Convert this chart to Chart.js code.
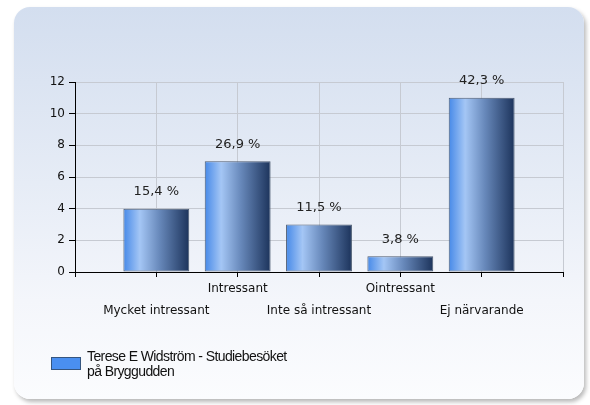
<!DOCTYPE html>
<html>
<head>
<meta charset="utf-8">
<script src="https://cdn.jsdelivr.net/npm/chart.js@4"></script>
<style>
  html, body { margin: 0; padding: 0; background: #ffffff; }
  body { width: 590px; height: 405px; position: relative; overflow: hidden; }
  .panel {
    position: absolute; left: 14px; top: 7px; width: 570px; height: 392px;
    border-radius: 16px;
    background: linear-gradient(to bottom, #d3deef 0%, #e6ecf6 45%, #f4f6fb 75%, #fbfcfe 100%);
    box-shadow: 2px 3px 4px rgba(0, 0, 0, 0.28);
  }
  #chart { position: absolute; left: 0; top: 0; }
</style>
</head>
<body>
<div class="panel"></div>
<canvas id="chart" width="590" height="405"></canvas>
<script>
// svarsalternativ och antal svar
const categories = ['Mycket intressant', 'Intressant', 'Inte så intressant', 'Ointressant', 'Ej närvarande'];
const counts = [4, 7, 3, 1, 11];
const percentLabels = ['15,4 %', '26,9 %', '11,5 %', '3,8 %', '42,3 %'];
const seriesName = ['Terese E Widström - Studiebesöket', 'på Bryggudden'];
const yTicks = [0, 2, 4, 6, 8, 10, 12];

// tom plats i början och slutet, etiketter växelvis på två rader
const labels = [''].concat(categories.map((c, i) => i % 2 === 0 ? ['', c] : [c, '']), ['']);
const values = [null].concat(counts, [null]);

const FONT = "'DejaVu Sans', sans-serif";

function barGradient(c) {
    const chart = c.chart;
    const x = chart.scales.x;
    if (!chart.chartArea || !x || c.dataIndex == null) return '#4a8eea';
    const step = x.getPixelForValue(1) - x.getPixelForValue(0);
    const cx = x.getPixelForValue(c.dataIndex);
    const w = step * 0.81;
    const g = chart.ctx.createLinearGradient(cx - w / 2, 0, cx + w / 2, 0);
    g.addColorStop(0, '#4689e8');
    g.addColorStop(0.25, '#a4c6f5');
    g.addColorStop(0.55, '#6788ba');
    g.addColorStop(1, '#1c335b');
    return g;
}

const valueLabels = {
    id: 'valueLabels',
    afterDatasetsDraw(chart) {
        const ctx = chart.ctx;
        const meta = chart.getDatasetMeta(0);
        ctx.save();
        ctx.font = '13px ' + FONT;
        ctx.fillStyle = '#222222';
        ctx.textAlign = 'center';
        ctx.textBaseline = 'middle';
        meta.data.forEach((bar, i) => {
            if (values[i] == null) return;
            ctx.fillText(percentLabels[i - 1], bar.x, bar.y - 17);
        });
        ctx.restore();
    }
};

const boxLegend = {
    id: 'boxLegend',
    afterDraw(chart) {
        const ctx = chart.ctx;
        const left = chart.chartArea.left - 24;
        const top = chart.chartArea.bottom + 85;
        ctx.save();
        ctx.fillStyle = '#4a8ff0';
        ctx.strokeStyle = '#35557f';
        ctx.lineWidth = 1;
        ctx.fillRect(left + 0.5, top + 0.5, 29, 12);
        ctx.strokeRect(left + 0.5, top + 0.5, 29, 12);
        ctx.font = "14px 'Liberation Sans', Arial, sans-serif";
        if ('letterSpacing' in ctx) ctx.letterSpacing = '-0.6px';
        ctx.fillStyle = '#111111';
        ctx.textAlign = 'left';
        ctx.textBaseline = 'alphabetic';
        seriesName.forEach((line, i) => {
            ctx.fillText(line, left + 36, top + 4 + i * 15);
        });
        ctx.restore();
    }
};

new Chart(document.getElementById('chart'), {
    type: 'bar',
    data: {
        labels: labels,
        datasets: [{
            label: seriesName.join(' '),
            data: values,
            backgroundColor: barGradient,
            borderColor: '#4b5a70',
            borderWidth: 1,
            borderSkipped: false,
            categoryPercentage: 0.9,
            barPercentage: 0.9
        }]
    },
    options: {
        responsive: false,
        animation: false,
        devicePixelRatio: 1,
        layout: { padding: { left: 45, right: 27, top: 82, bottom: 83 } },
        plugins: {
            legend: { display: false },
            tooltip: { enabled: false }
        },
        scales: {
            x: {
                offset: false,
                grid: { offset: false, color: '#c6cad2', tickColor: '#000000', tickLength: 5 },
                border: { color: '#000000', width: 1 },
                ticks: {
                    autoSkip: false, maxRotation: 0, padding: 0,
                    color: '#111111',
                    font: { family: FONT, size: 12, lineHeight: 1.9 }
                },
                afterFit: s => { s.height = 50; }
            },
            y: {
                min: 0,
                max: 12,
                afterBuildTicks: s => { s.ticks = yTicks.map(v => ({ value: v })); },
                grid: { color: '#c6cad2', tickColor: '#000000', tickLength: 6 },
                border: { color: '#000000', width: 1 },
                ticks: {
                    padding: 4,
                    color: '#111111',
                    font: { family: FONT, size: 12 }
                },
                afterFit: s => { s.width = 30; }
            }
        }
    },
    plugins: [valueLabels, boxLegend]
});
</script>
</body>
</html>
